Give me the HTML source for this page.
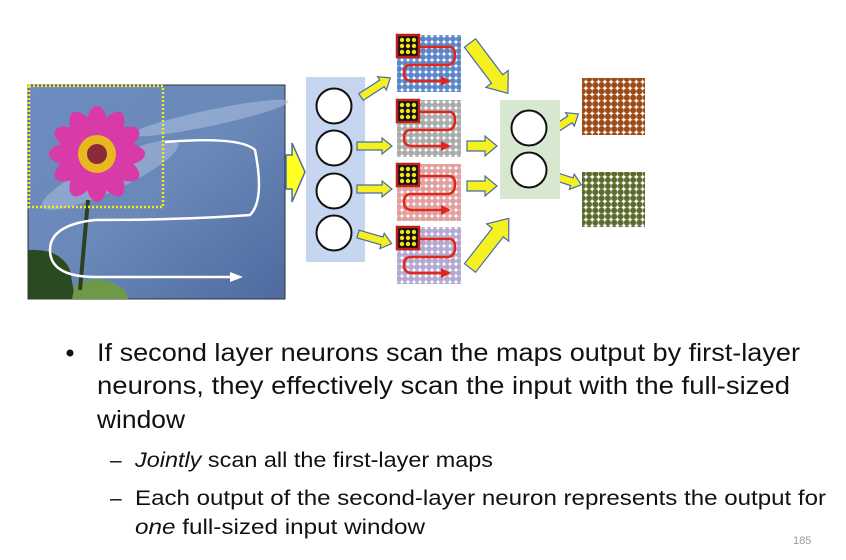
<!DOCTYPE html>
<html><head><meta charset="utf-8"><style>
html,body{margin:0;padding:0;background:#fff;width:846px;height:560px;overflow:hidden}
svg{display:block}
text{font-family:"Liberation Sans",sans-serif;fill:#111}
</style></head><body>
<svg width="846" height="560" viewBox="0 0 846 560" xmlns="http://www.w3.org/2000/svg">
<defs>
<pattern id="pb" width="6" height="6" patternUnits="userSpaceOnUse"><circle cx="3" cy="3" r="3" fill="#5a86c8"/></pattern>
<pattern id="pg" width="6" height="6" patternUnits="userSpaceOnUse"><circle cx="3" cy="3" r="3" fill="#aaaaaa"/></pattern>
<pattern id="pr" width="6" height="6" patternUnits="userSpaceOnUse"><circle cx="3" cy="3" r="3" fill="#e0a0a0"/></pattern>
<pattern id="pp" width="6" height="6" patternUnits="userSpaceOnUse"><circle cx="3" cy="3" r="3" fill="#b4a8d0"/></pattern>
<pattern id="po" width="6.3" height="6.3" patternUnits="userSpaceOnUse"><circle cx="3.15" cy="3.15" r="3.1" fill="#9c4a16"/></pattern>
<pattern id="pgr" width="6.3" height="6.1" patternUnits="userSpaceOnUse"><circle cx="3.15" cy="3.05" r="3.05" fill="#5a6b2c"/></pattern>
<linearGradient id="sky" x1="0" y1="0" x2="1" y2="1"><stop offset="0" stop-color="#6d8cc0"/><stop offset="0.5" stop-color="#6a88b8"/><stop offset="1" stop-color="#4e6aa0"/></linearGradient>
<g id="filt"><rect x="0" y="0" width="22" height="22" fill="#111" stroke="#c0201c" stroke-width="2.5"/>
<g fill="#f2e21c"><circle cx="5" cy="5" r="2.2"/><circle cx="11" cy="5" r="2.2"/><circle cx="17" cy="5" r="2.2"/><circle cx="5" cy="11" r="2.2"/><circle cx="11" cy="11" r="2.2"/><circle cx="17" cy="11" r="2.2"/><circle cx="5" cy="17" r="2.2"/><circle cx="11" cy="17" r="2.2"/><circle cx="17" cy="17" r="2.2"/></g></g>
<path id="snake" d="M22 12 H52 Q58 12 58 20 Q58 30 50 30 H14 Q7 30 7 38 Q7 46 15 46 H44" fill="none" stroke="#e0261c" stroke-width="2.5"/>
<path id="as" d="M0 -4 H25 V-8 L35 0 L25 8 V4 H0Z"/>
<path id="am" d="M0 -5 H18 V-10 L30 0 L18 10 V5 H0Z"/>
<path id="al" d="M0 -7 H45 V-14 L63 0 L45 14 V7 H0Z"/>
<ellipse id="pet" cx="97" cy="128" rx="11" ry="22" fill="#d83aa8"/>
</defs>

<!-- photo -->
<rect x="28" y="85" width="257" height="214" fill="url(#sky)" stroke="#333" stroke-width="1"/>
<ellipse cx="210" cy="118" rx="80" ry="8" fill="#a8bcdc" opacity="0.6" transform="rotate(-12 210 118)"/>
<ellipse cx="110" cy="175" rx="75" ry="16" fill="#b0c2e0" opacity="0.5" transform="rotate(-25 110 175)"/>
<path d="M28 250 Q60 248 70 270 L75 299 L28 299Z" fill="#2c4a22"/>
<path d="M75 285 Q100 272 125 290 L128 299 L72 299Z" fill="#6e9a48"/>
<path d="M88 200 L80 290" stroke="#2e4024" stroke-width="4"/>
<use href="#pet" transform="rotate(0 97 154)"/>
<use href="#pet" transform="rotate(30 97 154)"/>
<use href="#pet" transform="rotate(60 97 154)"/>
<use href="#pet" transform="rotate(90 97 154)"/>
<use href="#pet" transform="rotate(120 97 154)"/>
<use href="#pet" transform="rotate(150 97 154)"/>
<use href="#pet" transform="rotate(180 97 154)"/>
<use href="#pet" transform="rotate(210 97 154)"/>
<use href="#pet" transform="rotate(240 97 154)"/>
<use href="#pet" transform="rotate(270 97 154)"/>
<use href="#pet" transform="rotate(300 97 154)"/>
<use href="#pet" transform="rotate(330 97 154)"/>
<circle cx="97" cy="154" r="19" fill="#e8b820"/><circle cx="97" cy="154" r="10" fill="#8a2a3a"/>
<rect x="29" y="86" width="134" height="121" fill="none" stroke="#f2ea20" stroke-width="2.5" stroke-dasharray="2 2"/>
<path d="M165 142 Q240 136 255 150 Q265 200 250 215 Q180 220 95 220 Q50 225 50 250 Q50 278 100 277 H230" fill="none" stroke="#fff" stroke-width="2.5"/>
<path d="M230 272 L243 277 L230 282Z" fill="#fff"/>

<!-- big arrow -->
<path d="M286 155 H292 V143 L305 172 L292 202 V189 H286Z" fill="#ffff20" stroke="#4a6aa8" stroke-width="1.5"/>

<!-- layer 1 -->
<rect x="306" y="77" width="59" height="185" fill="#c6d6f0"/>
<g fill="#fff" stroke="#111" stroke-width="2"><circle cx="334" cy="106" r="17.5"/><circle cx="334" cy="148" r="17.5"/><circle cx="334" cy="191" r="17.5"/><circle cx="334" cy="233" r="17.5"/></g>

<!-- arrows -->
<g fill="#f5f020" stroke="#4a6aa8" stroke-width="1.2">
<use href="#as" transform="translate(361,97) rotate(-33)"/>
<use href="#as" transform="translate(357,146)"/>
<use href="#as" transform="translate(357,189)"/>
<use href="#as" transform="translate(358,234) rotate(16)"/>
<use href="#am" transform="translate(467,146)"/>
<use href="#am" transform="translate(467,186)"/>
<use href="#al" transform="translate(470,43) rotate(53)"/>
<use href="#al" transform="translate(470,268) rotate(-52)"/>
<use href="#as" transform="translate(549,133) rotate(-33)"/>
<use href="#as" transform="translate(548,174) rotate(18)"/>
</g>

<!-- maps -->
<rect x="397" y="35" width="64" height="57" fill="url(#pb)"/>
<rect x="397" y="100" width="64" height="57" fill="url(#pg)"/>
<rect x="397" y="164" width="64" height="57" fill="url(#pr)"/>
<rect x="397" y="227" width="64" height="57" fill="url(#pp)"/>
<g transform="translate(397,35)"><use href="#snake"/><path d="M44 41 L54 46 L44 51Z" fill="#e0261c"/><use href="#filt"/></g>
<g transform="translate(397,100)"><use href="#snake"/><path d="M44 41 L54 46 L44 51Z" fill="#e0261c"/><use href="#filt"/></g>
<g transform="translate(397,164)"><use href="#snake"/><path d="M44 41 L54 46 L44 51Z" fill="#e0261c"/><use href="#filt"/></g>
<g transform="translate(397,227)"><use href="#snake"/><path d="M44 41 L54 46 L44 51Z" fill="#e0261c"/><use href="#filt"/></g>

<!-- layer 2 -->
<rect x="500" y="100" width="60" height="99" fill="#d8e8d0"/>
<g fill="#fff" stroke="#111" stroke-width="2"><circle cx="529" cy="128" r="17.5"/><circle cx="529" cy="170" r="17.5"/></g>

<rect x="582" y="78" width="63" height="57" fill="url(#po)"/>
<rect x="582" y="172" width="63" height="55" fill="url(#pgr)"/>

<!-- text -->
<circle cx="70" cy="353" r="3.5" fill="#111"/>
<text x="97" y="361" font-size="25" textLength="703" lengthAdjust="spacingAndGlyphs">If second layer neurons scan the maps output by first-layer</text>
<text x="97" y="394" font-size="25" textLength="693" lengthAdjust="spacingAndGlyphs">neurons, they effectively scan the input with the full-sized</text>
<text x="97" y="428" font-size="25" textLength="88" lengthAdjust="spacingAndGlyphs">window</text>
<text x="110" y="467" font-size="21">–</text>
<text x="135" y="467" font-size="21" textLength="358" lengthAdjust="spacingAndGlyphs"><tspan font-style="italic">Jointly</tspan> scan all the first-layer maps</text>
<text x="110" y="505" font-size="21">–</text>
<text x="135" y="505" font-size="21" textLength="691" lengthAdjust="spacingAndGlyphs">Each output of the second-layer neuron represents the output for</text>
<text x="135" y="534" font-size="21" textLength="290" lengthAdjust="spacingAndGlyphs"><tspan font-style="italic">one</tspan> full-sized input window</text>
<text x="793" y="544" font-size="11" style="fill:#999">185</text>
</svg>
</body></html>
